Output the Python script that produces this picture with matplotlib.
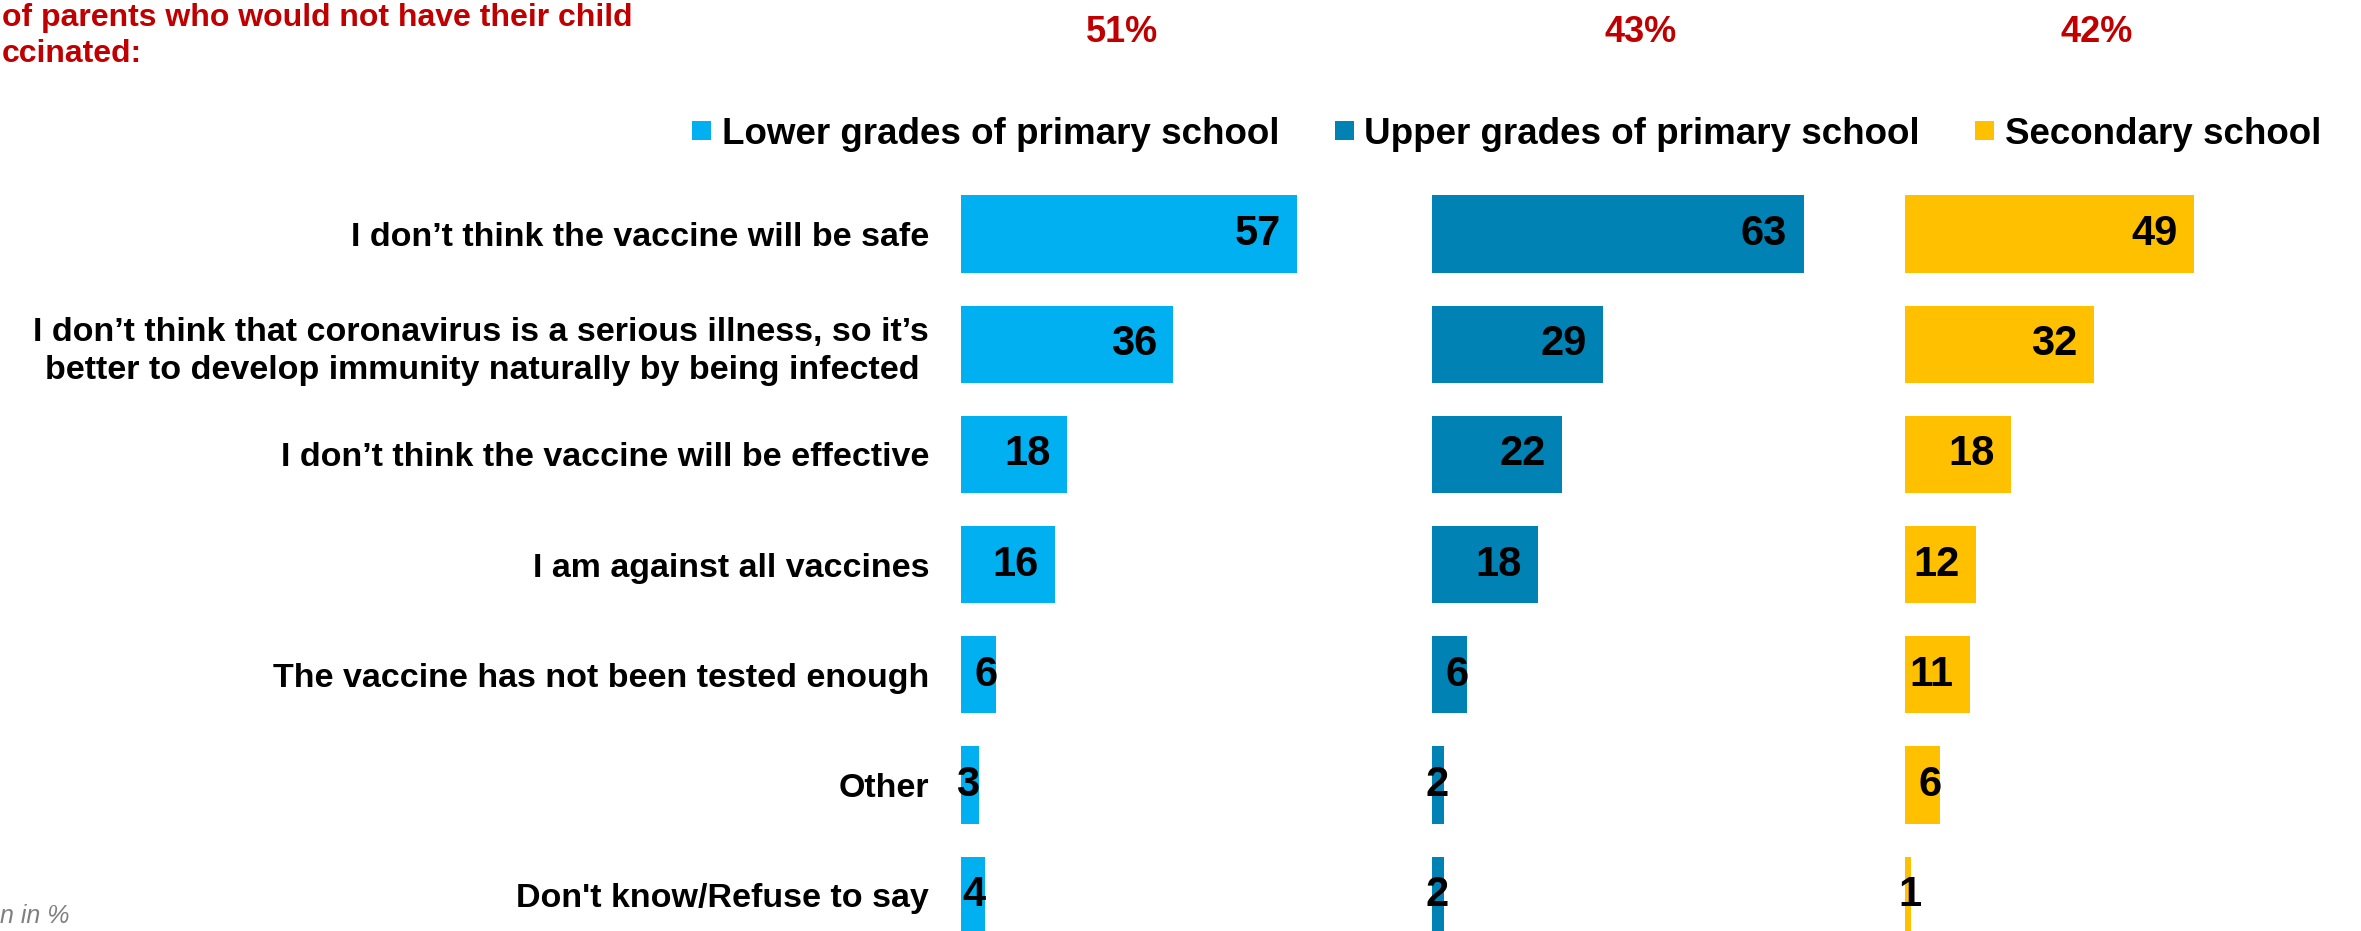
import matplotlib
matplotlib.use("Agg")
import matplotlib.pyplot as plt
from matplotlib.patches import Patch

plt.rcParams['font.family'] = ['Liberation Sans', 'DejaVu Sans']

# data (% of parents who would not vaccinate)
reasons = [
    "I don\u2019t think the vaccine will be safe",
    "I don\u2019t think that coronavirus is a serious illness, so it\u2019s\nbetter to develop immunity naturally by being infected ",
    "I don\u2019t think the vaccine will be effective",
    "I am against all vaccines",
    "The vaccine has not been tested enough",
    "Other",
    "Don't know/Refuse to say",
]
groups = ["Lower grades of primary school", "Upper grades of primary school", "Secondary school"]
lower_primary = [57, 36, 18, 16, 6, 3, 4]
upper_primary = [63, 29, 22, 18, 6, 2, 2]
secondary = [49, 32, 18, 12, 11, 6, 1]
share_not_vaccinate = ["51%", "43%", "42%"]

colors = ["#00B0F0", "#0082B4", "#FFC000"]
red = "#C00000"

W, H = 2361, 931
fig = plt.figure(figsize=(W / 100, H / 100), dpi=100)

panel_left_px = [961, 1432, 1905]
unit_px = 5.9
xmax = 70
row_px = 110.2
first_center_px = 234
top_px = first_center_px - 0.7 * row_px
ax_h = (H - top_px) / H
ylim_bottom = (H - first_center_px) / row_px

series = [lower_primary, upper_primary, secondary]
for k, vals in enumerate(series):
    ax = fig.add_axes([panel_left_px[k] / W, 0, xmax * unit_px / W, ax_h])
    y = list(range(len(vals)))
    ax.barh(y, vals, height=0.7, color=colors[k])
    ax.set_xlim(0, xmax)
    ax.set_ylim(ylim_bottom, -0.7)
    for s in ax.spines.values():
        s.set_visible(False)
    ax.set_xticks([])
    if k == 0:
        ax.set_yticks(y, reasons)
        ax.tick_params(axis='y', length=0, pad=23)
        for t in ax.get_yticklabels():
            t.set_fontsize(24.5)
            t.set_fontweight('bold')
            t.set_linespacing(1.3)
    else:
        ax.set_yticks([])
    for yi, v in zip(y, vals):
        if v >= 10:
            ax.text(v - 2.8, yi, str(v), ha='right', va='center',
                    fontsize=30, fontweight='bold', color='black')
        else:
            ax.text(max(v - 1.8, 0.9), yi, str(v), ha='center', va='center',
                    fontsize=30, fontweight='bold', color='black', clip_on=False)

# shares above the panels
pct_x = [1122, 1641, 2097]
for x, s in zip(pct_x, share_not_vaccinate):
    fig.text(x / W, 1 - 33 / H, s, ha='center', va='center',
             fontsize=26, fontweight='bold', color=red)

# cropped title at top-left
fig.text(2 / W, 1 - 36 / H, "of parents who would not have their child\nccinated:",
         ha='left', va='center', fontsize=23, fontweight='bold', color=red,
         linespacing=1.28)

# cropped note at bottom-left
fig.text(0, 1 - 904 / H, "n in %", ha='left', va='top', fontsize=18,
         style='italic', color='#7F7F7F')

fs_leg = 26.5
fs_px = fs_leg * 100 / 72
sq = 19 / fs_px
hh = (sq - 0.245) / 0.65
handles = [Patch(facecolor=c, edgecolor='none') for c in colors]
fig.legend(handles, groups, loc='center left', bbox_to_anchor=(692 / W, 1 - 134 / H),
           ncol=3, frameon=False, prop={'weight': 'bold', 'size': fs_leg},
           handlelength=sq, handleheight=hh, handletextpad=11 / fs_px,
           columnspacing=55 / fs_px, borderpad=0, borderaxespad=0)

fig.savefig("out.png", dpi=100)
